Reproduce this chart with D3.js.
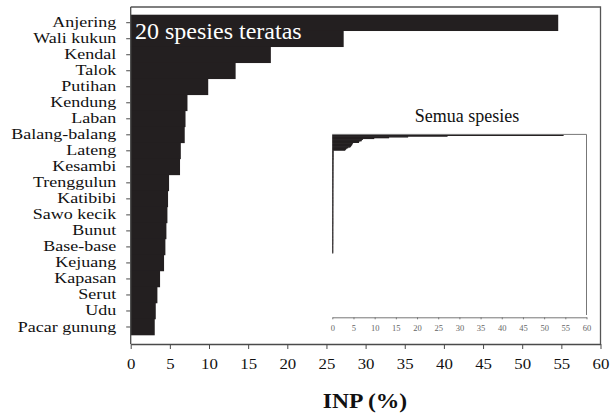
<!DOCTYPE html>
<html>
<head>
<meta charset="utf-8">
<script src="https://cdn.jsdelivr.net/npm/d3@7"></script>
<style>
  html, body { margin: 0; padding: 0; background: #fff; }
  svg { display: block; }
  svg text { font-family: "Liberation Serif", "Times New Roman", serif !important; }
</style>
</head>
<body>
<svg id="chart" width="610" height="418"></svg>
<script>
// ---- data ----
const categories = ["Anjering", "Wali kukun", "Kendal", "Talok", "Putihan", "Kendung", "Laban",
  "Balang-balang", "Lateng", "Kesambi", "Trenggulun", "Katibibi", "Sawo kecik", "Bunut",
  "Base-base", "Kejuang", "Kapasan", "Serut", "Udu", "Pacar gunung"];
const inpValues = [54.6, 27.2, 17.9, 13.4, 9.9, 7.25, 7.0, 6.9, 6.4, 6.3,
  4.9, 4.77, 4.69, 4.56, 4.43, 4.26, 3.75, 3.41, 3.2, 3.07];
// remaining species (inset "Semua spesies"), estimated small values
const otherSpeciesValues = [
  0.30, 0.30, 0.30, 0.30, 0.30, 0.30, 0.30, 0.30, 0.30, 0.30, 0.30, 0.30,
  0.28, 0.28, 0.28, 0.28, 0.28, 0.28, 0.28, 0.28, 0.28, 0.28, 0.28, 0.28,
  0.27, 0.27, 0.27, 0.27, 0.27, 0.27, 0.27, 0.27, 0.27, 0.27, 0.27, 0.27,
  0.26, 0.26, 0.26, 0.26, 0.26, 0.26, 0.26, 0.26, 0.26, 0.26, 0.26, 0.26,
  0.25, 0.25, 0.25, 0.25, 0.25, 0.25, 0.25, 0.25, 0.25, 0.25, 0.25, 0.25,
  0.25, 0.25, 0.25, 0.25, 0.25, 0.25, 0.25, 0.25, 0.25, 0.25, 0.25, 0.25,
  0.24, 0.24, 0.24, 0.24, 0.24, 0.24, 0.24, 0.24, 0.24, 0.24, 0.24, 0.24,
  0.24, 0.24, 0.24, 0.24, 0.24, 0.24, 0.24, 0.24, 0.24, 0.24, 0.24, 0.24,
  0.23, 0.23, 0.23, 0.23, 0.23, 0.23, 0.23, 0.23, 0.23, 0.23, 0.23, 0.23,
  0.23, 0.23, 0.23, 0.23, 0.23, 0.23, 0.23, 0.23, 0.23, 0.23, 0.23, 0.23,
  0.22, 0.22, 0.22, 0.22, 0.22, 0.22, 0.22, 0.22, 0.22, 0.22, 0.22, 0.22
];
const xTicks = [0, 5, 10, 15, 20, 25, 30, 35, 40, 45, 50, 55, 60];
const xDomain = [0, 60];
const panelLabel = "20 spesies teratas";
const insetTitle = "Semua spesies";
const xTitle = "INP (%)";

// ---- drawing ----
const svg = d3.select("#chart");
const barColor = "#231f20";
const lineColor = "#4a4a4a";
const serif = "'Liberation Serif', 'Times New Roman', serif";

const x = d3.scaleLinear().domain(xDomain).range([130.7, 600.5]);
const y = d3.scaleBand().domain(categories).range([14.7, 335]).padding(0);

// frame (top and right)
svg.append("path")
  .attr("d", `M${x(0)},7 H${x(60)} V344`)
  .attr("fill", "none").attr("stroke", "#555").attr("stroke-width", 1.3);

// bars
svg.append("g").selectAll("rect")
  .data(categories)
  .join("rect")
  .attr("x", x(0))
  .attr("y", d => y(d))
  .attr("width", (d, i) => x(inpValues[i]) - x(0))
  .attr("height", y.bandwidth() + 0.3)
  .attr("fill", barColor);

// label inside
svg.append("text")
  .attr("x", 135).attr("y", 38.5)
  .attr("fill", "#fff")
  .style("font-family", serif)
  .attr("font-size", 24)
  .text(panelLabel);

// y axis
const sx = 1.2;
const yAxis = svg.append("g")
  .attr("transform", `translate(${x(0)},0)`)
  .call(d3.axisLeft(y).tickSize(4.5).tickSizeOuter(0).tickPadding(10));
yAxis.attr("font-family", null).style("font-family", serif);
yAxis.select(".domain").attr("d", `M0,7 V344`).attr("stroke", lineColor).attr("stroke-width", 1.3);
yAxis.selectAll(".tick line").attr("stroke", lineColor).attr("stroke-width", 1);
yAxis.selectAll(".tick text")
  .attr("font-size", 15)
  .attr("fill", "#111")
  .style("font-family", serif)
  .attr("x", -14.5 / sx)
  .attr("dy", "0.3em")
  .attr("transform", `scale(${sx},1)`);

// x axis
const xAxis = svg.append("g")
  .attr("transform", "translate(0,344)")
  .call(d3.axisBottom(x).tickValues(xTicks).tickSize(5).tickSizeOuter(0).tickPadding(9));
xAxis.attr("font-family", null).style("font-family", serif);
xAxis.select(".domain").attr("stroke", lineColor).attr("stroke-width", 1.3);
xAxis.selectAll(".tick line").attr("stroke", lineColor).attr("stroke-width", 1);
const sxx = 1.12;
xAxis.selectAll(".tick text")
  .attr("font-size", 15)
  .attr("fill", "#111")
  .style("font-family", serif)
  .attr("transform", `scale(${sxx},1)`)
  .attr("x", 0);

// x title
svg.append("text")
  .attr("transform", `translate(365,408) scale(1.15,1)`)
  .attr("text-anchor", "middle")
  .attr("font-size", 20.5)
  .attr("font-weight", "bold")
  .attr("fill", "#111")
  .style("font-family", serif)
  .text(xTitle);

// ---- inset ----
const allValues = inpValues.concat(otherSpeciesValues);
const allIdx = allValues.map((d, i) => i);
const xi = d3.scaleLinear().domain(xDomain).range([332.3, 586.5]);
const yi = d3.scaleBand().domain(allIdx).range([134.6, 253]).padding(0);

svg.append("g").selectAll("rect")
  .data(allIdx)
  .join("rect")
  .attr("x", xi(0))
  .attr("y", d => yi(d))
  .attr("width", d => xi(allValues[d]) - xi(0))
  .attr("height", yi.bandwidth() + 0.6)
  .attr("fill", barColor);

svg.append("path")
  .attr("d", `M${xi(0)},134.4 H${xi(60)} V315`)
  .attr("fill", "none").attr("stroke", "#777").attr("stroke-width", 1);

const xiAxis = svg.append("g")
  .attr("transform", "translate(0,317.3)")
  .call(d3.axisBottom(xi).tickValues(xTicks).tickSize(2).tickSizeOuter(0).tickPadding(6));
xiAxis.attr("font-family", null).style("font-family", serif);
xiAxis.select(".domain").attr("stroke", "#777").attr("stroke-width", 1);
xiAxis.selectAll(".tick line").attr("stroke", "#777");
xiAxis.selectAll(".tick text")
  .attr("font-size", 8.5)
  .attr("fill", "#666")
  .style("font-family", serif);

svg.append("text")
  .attr("x", 467).attr("y", 121.5)
  .attr("text-anchor", "middle")
  .attr("font-size", 18)
  .attr("fill", "#111")
  .style("font-family", serif)
  .text(insetTitle);
</script>
</body>
</html>
